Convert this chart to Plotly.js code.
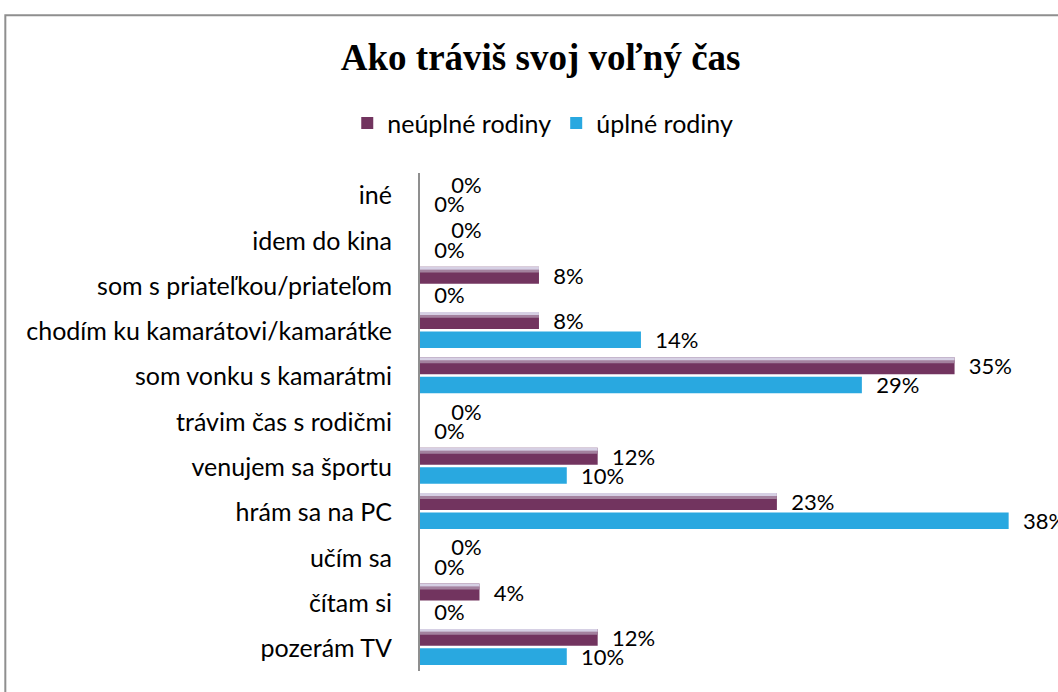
<!DOCTYPE html>
<html>
<head>
<meta charset="utf-8">
<script src="https://cdn.plot.ly/plotly-3.0.1.min.js"></script>
<style>
  html, body { margin: 0; padding: 0; background: #ffffff; }
  #chart { width: 1058px; height: 692px; }
</style>
</head>
<body>
<div id="chart"></div>
<script>
// Categories listed bottom to top
const categories = [
  "pozerám TV",
  "čítam si",
  "učím sa",
  "hrám sa na PC",
  "venujem sa športu",
  "trávim čas s rodičmi",
  "som vonku s kamarátmi",
  "chodím ku kamarátovi/kamarátke",
  "som s priateľkou/priateľom",
  "idem do kina",
  "iné"
];
// percentages
const neuplneRodiny = [11.5, 3.85, 0, 23.1, 11.5, 0, 34.6, 7.7, 7.7, 0, 0];
const uplneRodiny   = [9.5, 0, 0, 38.1, 9.5, 0, 28.6, 14.3, 0, 0, 0];
const seriesNames = ["neúplné rodiny", "úplné rodiny"];

const PURPLE = "#72345f";
const BLUE = "#29a8e0";
const FONT = "Lato, 'Noto Sans', sans-serif";

function labels(vals, zeroPad) {
  return vals.map(v => (v === 0 ? zeroPad : "\u00a0\u00a0") + Math.round(v) + "%");
}

const traces = [
  {
    type: "bar", orientation: "h", name: seriesNames[1],
    y: categories, x: uplneRodiny,
    offset: -0.365, width: 0.365,
    marker: { color: BLUE },
    text: labels(uplneRodiny, "\u00a0\u00a0"),
    textposition: "outside", cliponaxis: false, constraintext: "none",
    textfont: { family: FONT, size: 22, color: "#000" },
    legendrank: 2, hoverinfo: "x+y"
  },
  {
    type: "bar", orientation: "h", name: seriesNames[0],
    y: categories, x: neuplneRodiny,
    offset: 0.055, width: 0.375,
    marker: { color: PURPLE },
    text: labels(neuplneRodiny, "\u00a0\u00a0\u00a0\u00a0\u00a0"),
    textposition: "outside", cliponaxis: false, constraintext: "none",
    textfont: { family: FONT, size: 22, color: "#000" },
    legendrank: 1, hoverinfo: "x+y"
  },
  {
    type: "bar", orientation: "h", name: seriesNames[0] + " highlight",
    y: categories, x: neuplneRodiny,
    offset: 0.30, width: 0.07,
    marker: { color: "#a3819e" },
    showlegend: false, hoverinfo: "skip"
  },
  {
    type: "bar", orientation: "h", name: seriesNames[0] + " highlight2",
    y: categories, x: neuplneRodiny,
    offset: 0.365, width: 0.065,
    marker: { color: "#d6d0e4" },
    showlegend: false, hoverinfo: "skip"
  }
];

const layout = {
  width: 1058, height: 692,
  margin: { l: 420, r: 20, t: 173, b: 21 },
  paper_bgcolor: "#ffffff", plot_bgcolor: "rgba(0,0,0,0)",
  barmode: "overlay",
  title: {
    text: "<b>Ako tráviš svoj voľný čas</b>",
    font: { family: "'Liberation Serif', 'Times New Roman', serif", size: 37, color: "#000" },
    xref: "container", x: 0.511, xanchor: "center",
    yref: "container", y: 0.917, yanchor: "middle"
  },
  legend: {
    orientation: "h", traceorder: "normal",
    xref: "container", x: 0.513, xanchor: "center",
    yref: "container", y: 0.822, yanchor: "middle",
    font: { family: FONT, size: 25, color: "#000" },
    bgcolor: "rgba(0,0,0,0)"
  },
  xaxis: {
    range: [0, 40], visible: false, showgrid: false, zeroline: false, fixedrange: true
  },
  yaxis: {
    type: "category", categoryorder: "array", categoryarray: categories,
    showline: true, linecolor: "#8f8f8f", linewidth: 2,
    ticks: "outside", ticklen: 21, tickcolor: "rgba(0,0,0,0)",
    showgrid: false, zeroline: false,
    tickfont: { family: FONT, size: 25, color: "#000" }
  },
  shapes: [{
    type: "rect", xref: "paper", yref: "paper",
    x0: -0.671, x1: 1.2, y0: -0.2, y1: 1.317,
    line: { color: "#8f8f8f", width: 2 }, fillcolor: "rgba(0,0,0,0)", layer: "below"
  }],
  showlegend: true
};

Plotly.newPlot("chart", traces, layout, { displayModeBar: false, responsive: false });
</script>
</body>
</html>
